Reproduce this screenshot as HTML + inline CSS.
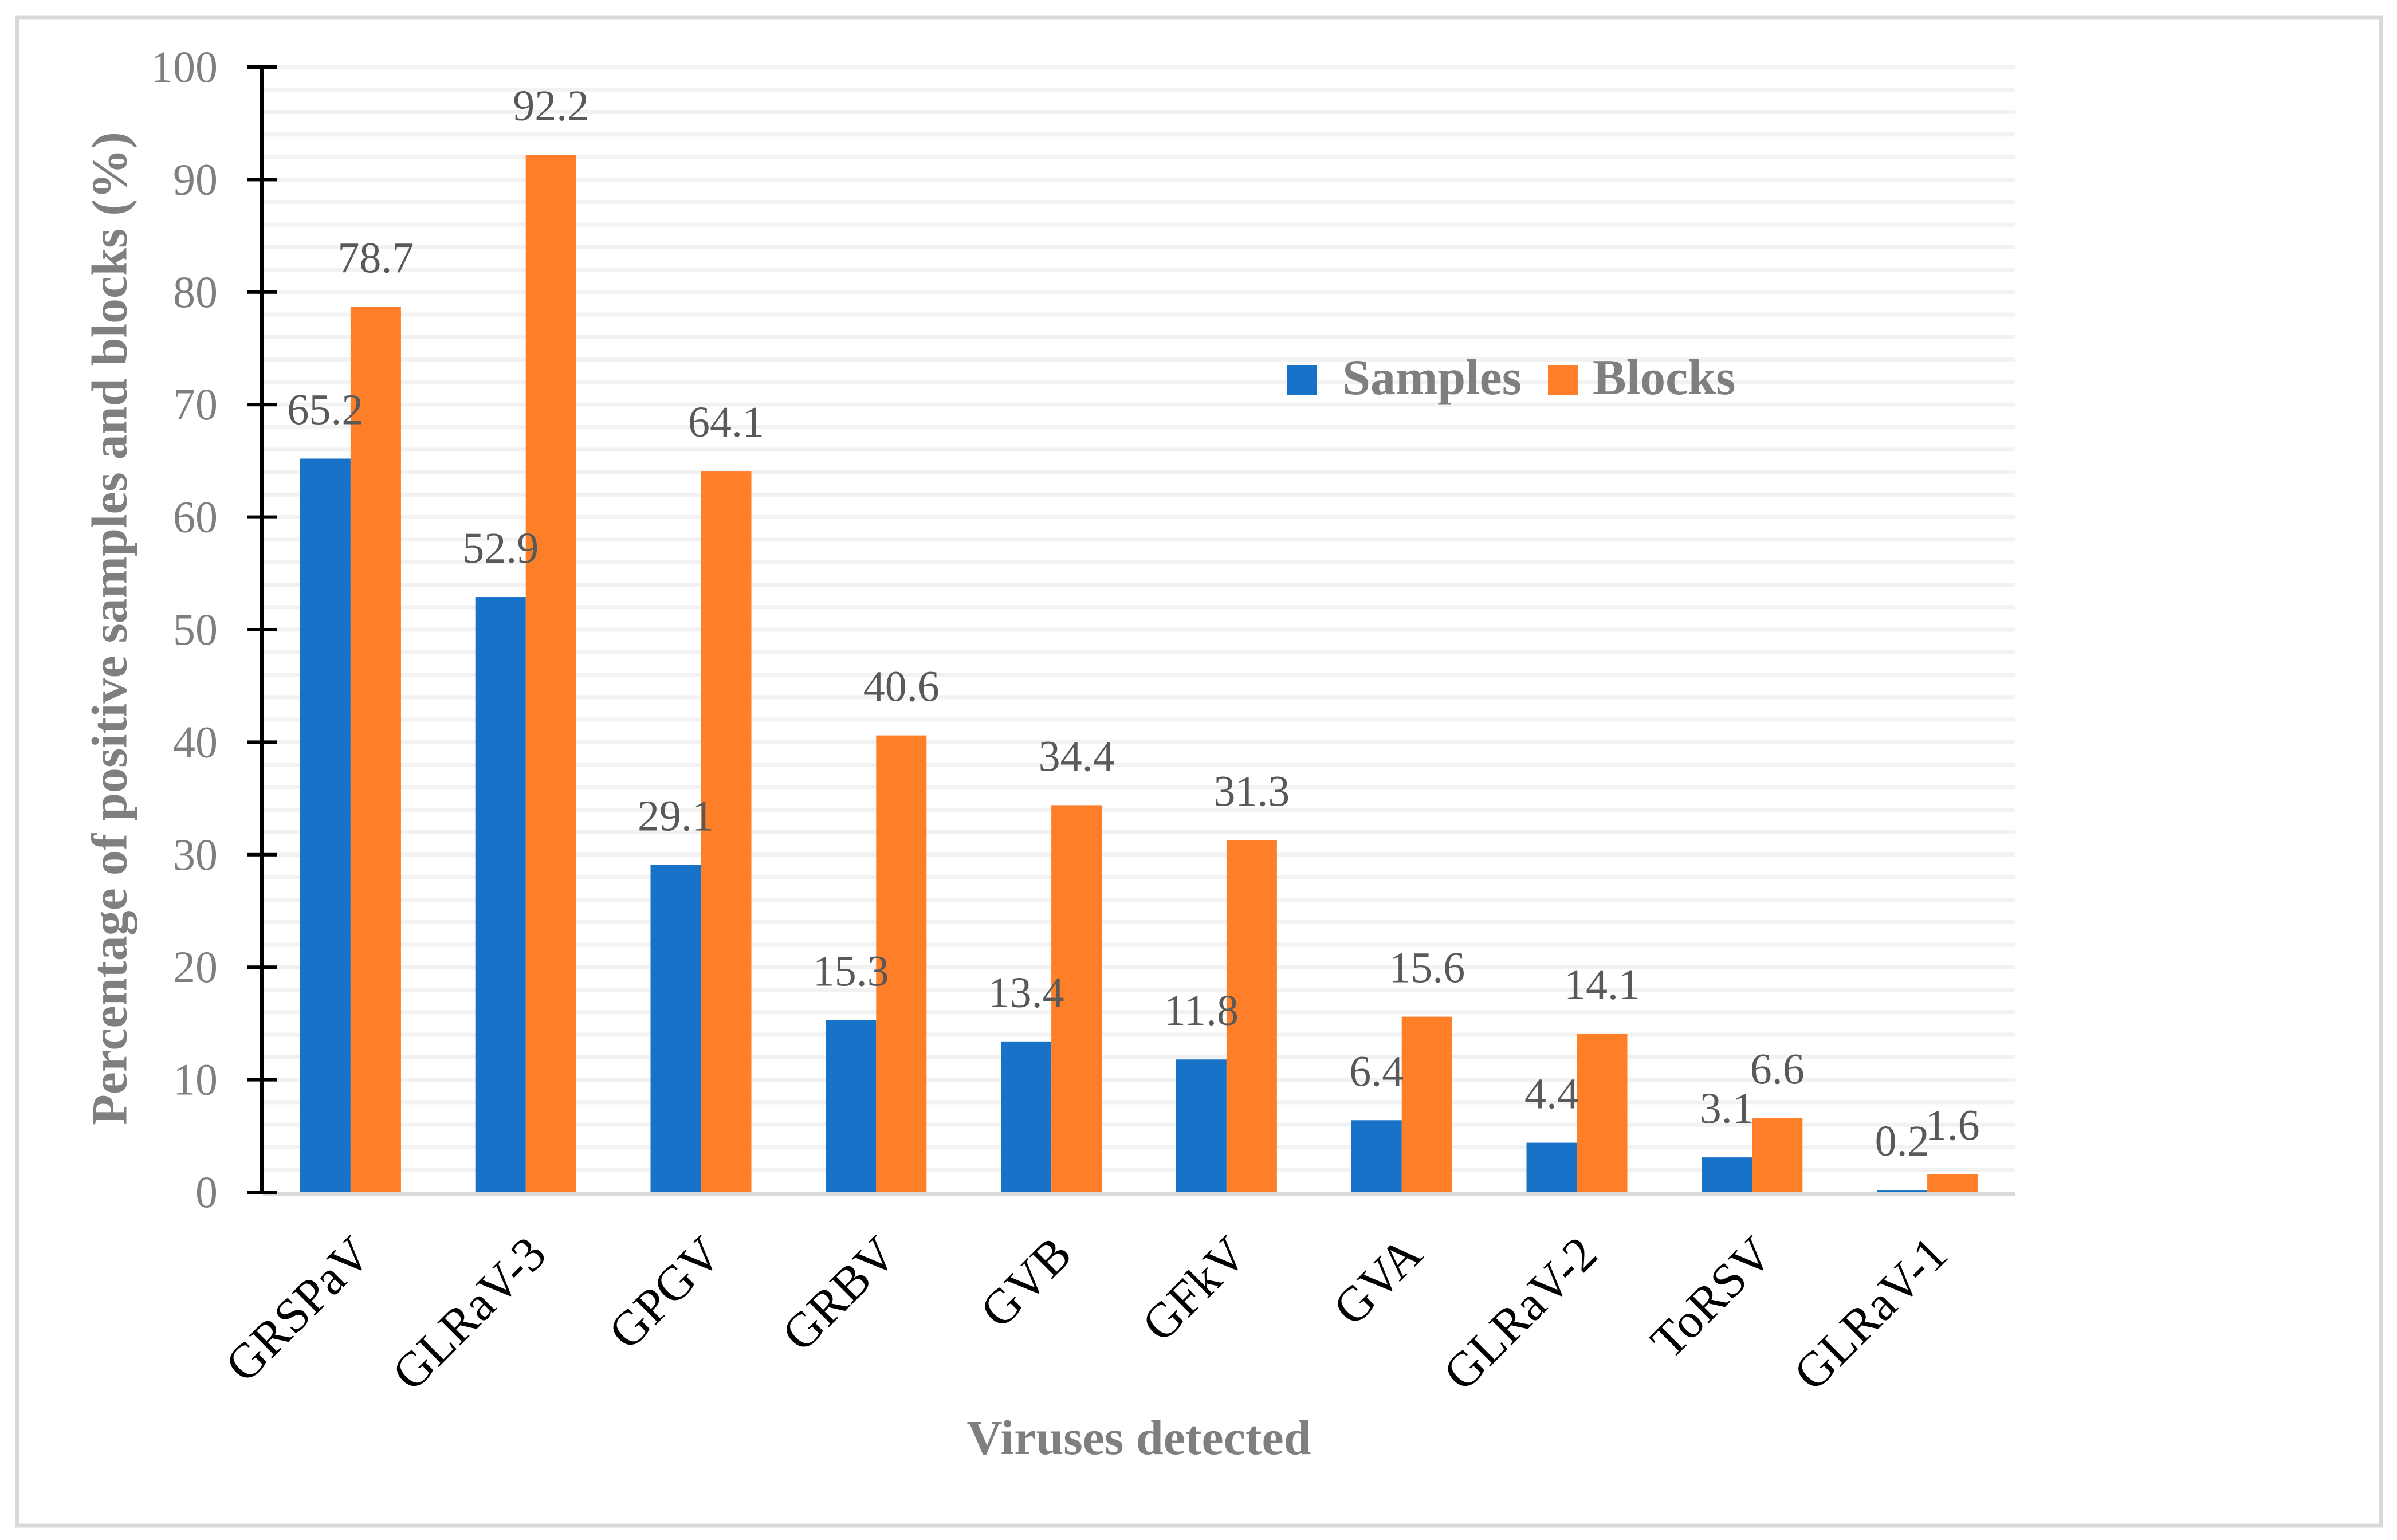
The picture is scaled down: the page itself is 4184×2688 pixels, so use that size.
<!DOCTYPE html>
<html><head><meta charset="utf-8"><style>
html,body{margin:0;padding:0;background:#fff;}
svg{display:block;font-family:"Liberation Serif",serif;}
</style></head><body>
<svg id="chart" width="4184" height="2688" viewBox="0 0 4184 2688" xmlns="http://www.w3.org/2000/svg">
<rect x="30" y="31" width="4126" height="2632" fill="#fff" stroke="#d9d9d9" stroke-width="7"/>
<g id="grid"></g>
<g id="bars"></g>
<g id="axes"></g>
<g id="labels"></g>
<text x="192" y="1097" transform="rotate(-90 192 1097)" text-anchor="middle" dominant-baseline="central" font-size="88" font-weight="bold" fill="#7f7f7f">Percentage of positive samples and blocks (%)</text>
<text x="1988" y="2538" text-anchor="middle" font-size="86" font-weight="bold" fill="#7f7f7f">Viruses detected</text>
<g>
<rect x="2246" y="637" width="53" height="53" fill="#1872c8"/>
<text x="2343" y="688" font-size="88" font-weight="bold" fill="#7f7f7f">Samples</text>
<rect x="2702" y="637" width="53" height="53" fill="#fe7f28"/>
<text x="2780" y="688" font-size="88" font-weight="bold" fill="#7f7f7f">Blocks</text>
</g>
</svg>
<script>
const categories = ["GRSPaV","GLRaV-3","GPGV","GRBV","GVB","GFkV","GVA","GLRaV-2","ToRSV","GLRaV-1"];
const samples = [65.2,52.9,29.1,15.3,13.4,11.8,6.4,4.4,3.1,0.2];
const blocks = [78.7,92.2,64.1,40.6,34.4,31.3,15.6,14.1,6.6,1.6];
const yTicks = [0,10,20,30,40,50,60,70,80,90,100];

const NS="http://www.w3.org/2000/svg";
const X0=459, X1=3517, Y0=2081, Y100=117, BW=88;
const step=(X1-X0)/categories.length;
function yS(v){return Y0-(v/100)*(Y0-Y100);}
function cx(i){return X0+step*(i+0.5);}
function mk(tag,attrs,parent,text){const e=document.createElementNS(NS,tag);for(const k in attrs)e.setAttribute(k,attrs[k]);if(text!==undefined)e.textContent=text;document.getElementById(parent).appendChild(e);return e;}

for(let v=2;v<=100;v+=2){
  const g=mk('rect',{x:X0,y:yS(v)-3.5,width:X1-X0,height:7,fill:'#f2f2f2'},'grid');
  
  
}
categories.forEach((c,i)=>{
  const s=mk('rect',{x:cx(i)-BW,y:yS(samples[i]),width:BW,height:Y0-yS(samples[i]),fill:'#1872c8'},'bars');
  
  
  const b=mk('rect',{x:cx(i),y:yS(blocks[i]),width:BW,height:Y0-yS(blocks[i]),fill:'#fe7f28'},'bars');
  
  
  const ls=mk('text',{x:cx(i)-BW/2,y:yS(samples[i])-60,'text-anchor':'middle','font-size':76,fill:'#595959'},'labels',samples[i].toFixed(1));
  
  
  const lb=mk('text',{x:cx(i)+BW/2,y:yS(blocks[i])-60,'text-anchor':'middle','font-size':76,fill:'#595959'},'labels',blocks[i].toFixed(1));
  
  
  const ax=cx(i)+40, ay=2194;
  const xl=mk('text',{x:ax,y:ay,'text-anchor':'end','font-size':86,fill:'#000',transform:`rotate(-45 ${ax} ${ay})`},'labels',c);
  
  
});
const base=mk('rect',{x:X0,y:Y0-1,width:X1-X0,height:8,fill:'#d9d9d9'},'axes');


const yl=mk('rect',{x:454,y:Y100-3,width:6,height:Y0-Y100+6,fill:'#000'},'axes');


yTicks.forEach(t=>{
  const tk=mk('rect',{x:431,y:yS(t)-3,width:52,height:6,fill:'#000'},'axes');
  
  
  const tl=mk('text',{x:380,y:yS(t)+26,'text-anchor':'end','font-size':78,fill:'#7f7f7f'},'labels',String(t));
  
  
});
</script>
</body></html>
